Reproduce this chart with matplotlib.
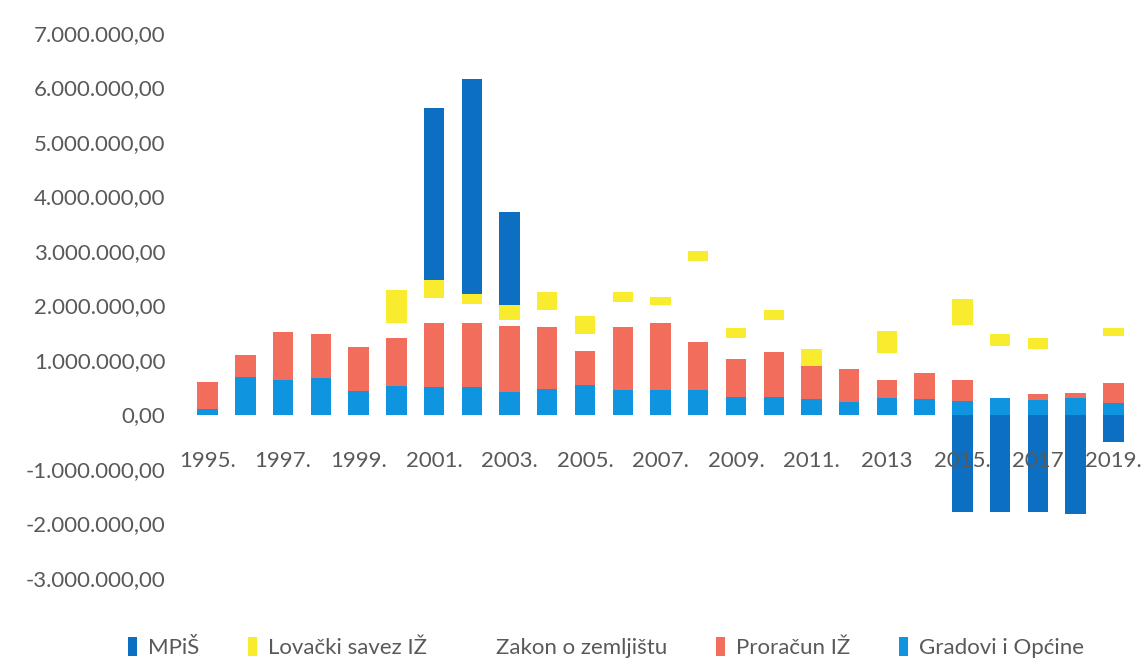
import numpy as np
import matplotlib
matplotlib.use('Agg')
import matplotlib.pyplot as plt
from matplotlib.ticker import FuncFormatter
from matplotlib.patches import Patch

# podaci (u milijunima kn), redoslijed slaganja odozdo prema gore
years = list(range(1995, 2020))
xlabels = ['1995.', '1997.', '1999.', '2001.', '2003.', '2005.', '2007.', '2009.',
           '2011.', '2013', '2015.', '2017', '2019.']

gradovi = [0.10, 0.69, 0.63, 0.67, 0.43, 0.53, 0.51, 0.51, 0.42, 0.46, 0.54, 0.45, 0.45,
           0.45, 0.33, 0.33, 0.29, 0.23, 0.30, 0.28, 0.25, 0.30, 0.27, 0.30, 0.22]
proracun = [0.50, 0.41, 0.88, 0.81, 0.80, 0.88, 1.17, 1.17, 1.21, 1.15, 0.63, 1.16, 1.22,
            0.88, 0.68, 0.81, 0.60, 0.61, 0.34, 0.48, 0.39, 0.00, 0.10, 0.10, 0.35]
zakon = [0, 0, 0, 0, 0, 0.27, 0.45, 0.35, 0.11, 0.31, 0.30, 0.46, 0.34,
         1.49, 0.40, 0.60, 0, 0, 0.48, 0, 1.00, 0.96, 0.84, 0.90, 0.87]
lovacki = [0, 0, 0, 0, 0, 0.60, 0.34, 0.19, 0.27, 0.33, 0.33, 0.18, 0.15,
           0.18, 0.18, 0.17, 0.32, 0, 0.42, 0, 0.48, 0.21, 0.20, 0, 0.15]
mpis = [0, 0, 0, 0, 0, 0, 3.15, 3.94, 1.71, 0, 0, 0, 0,
        0, 0, 0, 0, 0, 0, 0, -1.79, -1.79, -1.79, -1.82, -0.50]

series = [
    ('Gradovi i Općine', gradovi, '#0f95df'),
    ('Proračun IŽ', proracun, '#f36d5d'),
    ('Zakon o zemljištu', zakon, '#ffffff'),
    ('Lovački savez IŽ', lovacki, '#f9ec2e'),
    ('MPiŠ', mpis, '#0c6fc2'),
]

plt.rcParams['font.family'] = ['Lato', 'DejaVu Sans']

fig = plt.figure(figsize=(11.44, 6.65), dpi=100)
ax = fig.add_axes([185 / 1144, 1 - 578 / 665, 951 / 1144, 545 / 665])

x = np.arange(len(years))
pos_bottom = np.zeros(len(years))
neg_bottom = np.zeros(len(years))
for name, vals, col in series:
    v = np.array(vals) * 1e6
    bottom = np.where(v >= 0, pos_bottom, neg_bottom)
    ax.bar(x, v, 0.54, bottom=bottom, color=col, linewidth=0)
    pos_bottom += np.where(v > 0, v, 0)
    neg_bottom += np.where(v < 0, v, 0)

ax.set_ylim(-3e6, 7e6)
ax.set_xlim(-0.6, 24.6)
ax.set_yticks(np.arange(-3e6, 7.5e6, 1e6))


def fmt(val, pos):
    s = '{:,.2f}'.format(val)
    return s.replace(',', 'X').replace('.', ',').replace('X', '.')


ax.yaxis.set_major_formatter(FuncFormatter(fmt))
ax.set_xticks(x[::2])
ax.set_xticklabels(xlabels)
ax.spines['bottom'].set_position(('data', 0))
for s in ax.spines.values():
    s.set_visible(False)
ax.tick_params(axis='both', length=0, labelsize=16, colors='#595959')
ax.tick_params(axis='x', pad=26)
ax.tick_params(axis='y', pad=14)

handles = [Patch(facecolor=col, edgecolor='none') for name, vals, col in series[::-1]]
fig.legend(handles, [s[0] for s in series[::-1]], loc='lower center',
           bbox_to_anchor=(0.53, -0.02), ncol=5, frameon=False, fontsize=16,
           labelcolor='#595959', handlelength=0.4, handleheight=0.9,
           handletextpad=0.5, columnspacing=2.2)

fig.savefig('out.png', dpi=100)
